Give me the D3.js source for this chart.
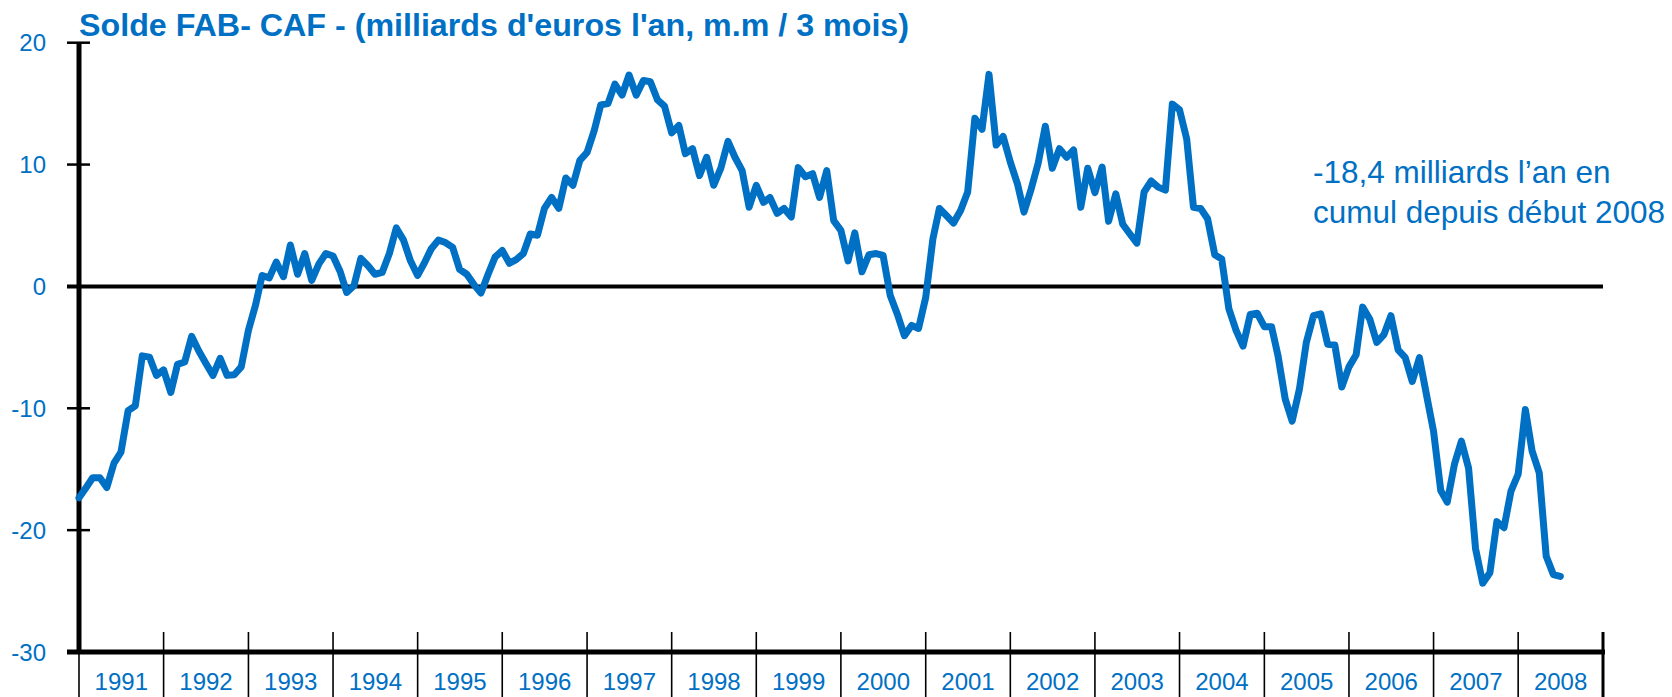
<!DOCTYPE html>
<html>
<head>
<meta charset="utf-8">
<script src="https://cdn.jsdelivr.net/npm/d3@7/dist/d3.min.js"></script>
<style>
  html, body { margin: 0; padding: 0; background: #fff; }
  svg { display: block; font-family: "Liberation Sans", Arial, sans-serif; }
</style>
</head>
<body>
<svg id="chart" width="1672" height="697"></svg>
<script>
// ---- Data ----
const title = "Solde FAB- CAF - (milliards d'euros l'an, m.m / 3 mois)";
const annotationLines = ["-18,4 milliards l\u2019an en", "cumul depuis d\u00e9but 2008"];
const startYear = 1991;
const yearLabels = ["1991","1992","1993","1994","1995","1996","1997","1998","1999","2000","2001","2002","2003","2004","2005","2006","2007","2008"];
const yTicks = [20, 10, 0, -10, -20, -30];
// monthly values from Jan 1991
const values = [
  -17.35, -16.5, -15.7, -15.7, -16.5, -14.5, -13.6, -10.2, -9.8, -5.7, -5.8, -7.3,
  -6.85, -8.7, -6.4, -6.2, -4.1, -5.3, -6.3, -7.3, -5.9, -7.3, -7.25, -6.6,
  -3.6, -1.5, 0.9, 0.7, 2.0, 0.8, 3.4, 1.0, 2.7, 0.5, 1.85, 2.7,
  2.5, 1.2, -0.5, 0.05, 2.3, 1.7, 1.0, 1.15, 2.7, 4.8, 3.8, 2.1,
  0.9, 2.0, 3.1, 3.8, 3.6, 3.2, 1.4, 1.0, 0.15, -0.55, 1.0, 2.4,
  2.95, 1.9, 2.2, 2.7, 4.3, 4.2, 6.4, 7.3, 6.4, 8.9, 8.3, 10.35,
  11.0, 12.8, 14.9, 15.0, 16.6, 15.7, 17.35, 15.7, 16.9, 16.8, 15.3, 14.8,
  12.6, 13.2, 10.9, 11.3, 9.1, 10.6, 8.3, 9.7, 11.9, 10.6, 9.5, 6.5,
  8.3, 6.9, 7.3, 6.0, 6.4, 5.7, 9.75, 9.0, 9.25, 7.3, 9.5, 5.4,
  4.6, 2.1, 4.4, 1.2, 2.6, 2.7, 2.55, -0.75, -2.3, -4.05, -3.2, -3.45,
  -0.9, 3.9, 6.4, 5.8, 5.2, 6.25, 7.75, 13.8, 12.9, 17.4, 11.6, 12.3,
  10.2, 8.4, 6.1, 8.0, 10.1, 13.15, 9.7, 11.3, 10.6, 11.2, 6.5, 9.7,
  7.7, 9.8, 5.35, 7.6, 5.1, 4.3, 3.55, 7.75, 8.65, 8.15, 7.9, 14.96,
  14.5, 12.1, 6.5, 6.4, 5.55, 2.6, 2.25, -1.85, -3.6, -4.9, -2.3, -2.2,
  -3.3, -3.3, -5.7, -9.25, -11.05, -8.45, -4.6, -2.4, -2.25, -4.75, -4.8, -8.25,
  -6.6, -5.6, -1.7, -2.7, -4.6, -3.95, -2.4, -5.2, -5.85, -7.8, -5.85, -8.85,
  -11.9, -16.75, -17.7, -14.6, -12.7, -14.9, -21.5, -24.35, -23.5, -19.3, -19.8, -16.8,
  -15.4, -10.1, -13.5, -15.3, -22.15, -23.65, -23.8
];

// ---- Layout ----
const blue = "#0070C4";
const svg = d3.select("#chart");
const plotLeft = 79, plotRight = 1603, plotTop = 42.7, plotBottom = 652;

const x = d3.scaleTime()
  .domain([new Date(startYear, 0, 1), new Date(startYear + yearLabels.length, 0, 1)])
  .range([plotLeft, plotRight]);
const y = d3.scaleLinear().domain([-30, 20]).range([plotBottom, plotTop]);

const data = values.map((v, i) => ({ date: new Date(startYear, i, 1), v }));

// Year tick lines (boundaries)
const boundaries = d3.range(yearLabels.length + 1).map(k => new Date(startYear + k, 0, 1));
svg.append("g").selectAll("line").data(boundaries).join("line")
  .attr("x1", d => x(d)).attr("x2", d => x(d))
  .attr("y1", 632).attr("y2", 697)
  .attr("stroke", "#000")
  .attr("stroke-width", (d, i) => i === boundaries.length - 1 ? 3 : 1.6);

// Year labels
svg.append("g").selectAll("text").data(yearLabels).join("text")
  .attr("x", (d, i) => (x(new Date(startYear + i, 0, 1)) + x(new Date(startYear + i + 1, 0, 1))) / 2)
  .attr("y", 690)
  .attr("text-anchor", "middle")
  .attr("font-size", 24)
  .attr("fill", blue)
  .text(d => d);

// Y ticks
svg.append("g").selectAll("line").data(yTicks).join("line")
  .attr("x1", plotLeft - 12).attr("x2", d => (d === 0 || d === -30) ? plotLeft : plotLeft + 11)
  .attr("y1", d => y(d)).attr("y2", d => y(d))
  .attr("stroke", "#000").attr("stroke-width", 2.5);

// Y labels
svg.append("g").selectAll("text").data(yTicks).join("text")
  .attr("x", 46).attr("y", d => y(d))
  .attr("dy", "0.36em")
  .attr("text-anchor", "end")
  .attr("font-size", 24)
  .attr("fill", blue)
  .text(d => d);

// Zero line
svg.append("line")
  .attr("x1", plotLeft - 12).attr("x2", plotRight)
  .attr("y1", y(0)).attr("y2", y(0))
  .attr("stroke", "#000").attr("stroke-width", 4);

// Bottom axis
svg.append("line")
  .attr("x1", plotLeft - 12).attr("x2", plotRight + 2)
  .attr("y1", y(-30)).attr("y2", y(-30))
  .attr("stroke", "#000").attr("stroke-width", 5);

// Y axis
svg.append("line")
  .attr("x1", plotLeft).attr("x2", plotLeft)
  .attr("y1", y(20)).attr("y2", y(-30) + 2)
  .attr("stroke", "#000").attr("stroke-width", 5);

// Data line
svg.append("path")
  .datum(data)
  .attr("fill", "none")
  .attr("stroke", blue)
  .attr("stroke-width", 7)
  .attr("stroke-linejoin", "round")
  .attr("stroke-linecap", "round")
  .attr("d", d3.line().x(d => x(d.date)).y(d => y(d.v)));

// Title
svg.append("text")
  .attr("x", 79).attr("y", 36)
  .attr("font-size", 32)
  .attr("font-weight", "bold")
  .attr("fill", blue)
  .attr("textLength", 830)
  .attr("lengthAdjust", "spacingAndGlyphs")
  .text(title);

// Annotation
svg.append("g").selectAll("text").data(annotationLines).join("text")
  .attr("x", 1313)
  .attr("y", (d, i) => 183 + i * 40)
  .attr("font-size", 31.5)
  .attr("fill", blue)
  .text(d => d);
</script>
</body>
</html>
